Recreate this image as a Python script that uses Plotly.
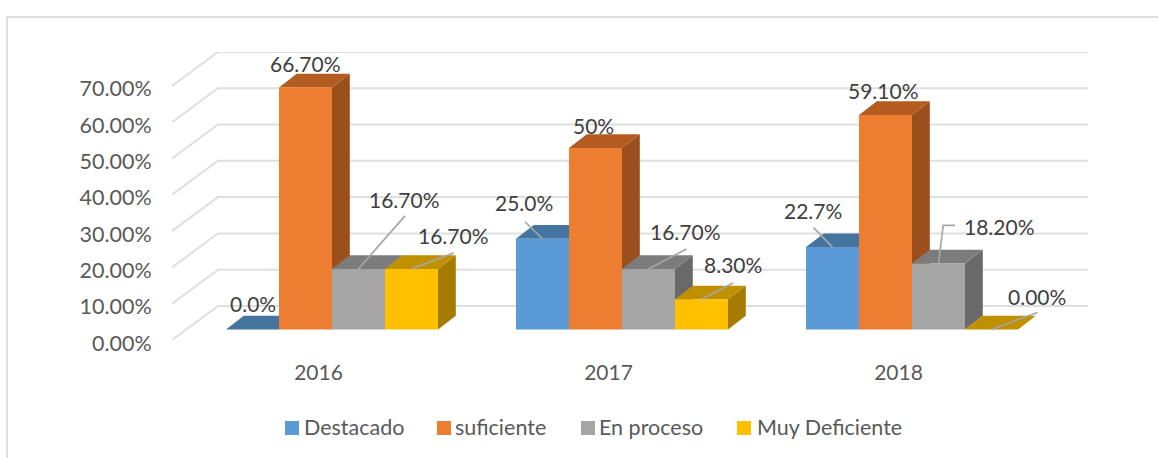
import plotly.graph_objects as go

# ---- data ----
YEARS = ["2016", "2017", "2018"]
SERIES = ["Destacado", "suficiente", "En proceso", "Muy Deficiente"]
DESTACADO = [0.0, 25.0, 22.7]
SUFICIENTE = [66.7, 50.0, 59.1]
EN_PROCESO = [16.7, 16.7, 18.2]
MUY_DEFICIENTE = [16.7, 8.3, 0.0]
LABELS_DESTACADO = ["0.0%", "25.0%", "22.7%"]
LABELS_SUFICIENTE = ["66.70%", "50%", "59.10%"]
LABELS_EN_PROCESO = ["16.70%", "16.70%", "18.20%"]
LABELS_MUY_DEFICIENTE = ["16.70%", "8.30%", "0.00%"]
Y_TICKS = [0, 10, 20, 30, 40, 50, 60, 70]
Y_TICK_TEXT = ["0.00%", "10.00%", "20.00%", "30.00%", "40.00%", "50.00%", "60.00%", "70.00%"]

VALUES = [DESTACADO, SUFICIENTE, EN_PROCESO, MUY_DEFICIENTE]
LABELS = [LABELS_DESTACADO, LABELS_SUFICIENTE, LABELS_EN_PROCESO, LABELS_MUY_DEFICIENTE]

# ---- style ----
FRONT = ["#5b9bd5", "#ed7d31", "#a5a5a5", "#ffc000"]
TOP = ["#45759f", "#b45c20", "#7c7c7c", "#bf9000"]
SIDE = ["#3d6a94", "#9a4f1d", "#696969", "#a67c00"]
GRID = "#dfdfdf"
TEXT = "#404040"
AXTEXT = "#595959"
FONT = "Lato"

W, H = 1158, 458
LEFT, RIGHT, TOPPX, FLOOR = 172, 1088, 52, 340
PX_PER_UNIT_Y = 3.63
PX_PER_CAT = 290.0
CAT0_PX = 318.5
x_lo = (LEFT - CAT0_PX) / PX_PER_CAT
x_hi = (RIGHT - CAT0_PX) / PX_PER_CAT
y_hi = (FLOOR - TOPPX) / PX_PER_UNIT_Y

BASE = 10.5 / PX_PER_UNIT_Y           # bar floor above the front of the wall
BAR_W = 53.0 / PX_PER_CAT
GROUP_SHIFT = 13.5 / PX_PER_CAT
DEPTH_X = 17.8 / PX_PER_CAT
DEPTH_Y = 13.7 / PX_PER_UNIT_Y
WALL_X = 46.0 / PX_PER_CAT
WALL_Y = 34.0 / PX_PER_UNIT_Y
LINE_W = 1.7

# label centre offset and leader path in px, relative to bar top centre (right, up)
LABEL_OFF = [
    [(0.5, 26), (-19, 36), (-20, 37)],
    [(0, 23.5), (-2, 23), (-2, 24)],
    [(45.5, 69), (37.4, 37), (60.6, 36.7)],
    [(42.3, 33), (31, 34.7), (45, 33.5)],
]
LEADERS = [
    [None, [(-17.6, 17)], [(-19, 19.4)]],
    [None, None, None],
    [[(46.5, 53)], [(38, 20)], [(16.5, 38), (4.7, 38)]],
    [[(42.3, 16)], [(31.7, 16.4)], [(46, 17)]],
]

def bar_left(i, k):
    return i + GROUP_SHIFT + (k - 2) * BAR_W

fig = go.Figure()

# back wall and left wall gridlines
gx, gy = [], []
for t in Y_TICKS:
    gx += [x_lo, x_lo + WALL_X, x_hi, None]
    gy += [t, t + WALL_Y, t + WALL_Y, None]
fig.add_trace(go.Scatter(x=gx, y=gy, mode="lines", line=dict(color=GRID, width=2),
                         hoverinfo="skip", showlegend=False))

# depth faces, series by series so each hides the one before
for k, vals in enumerate(VALUES):
    sx, sy, tx, ty = [], [], [], []
    for i, v in enumerate(vals):
        xl = bar_left(i, k)
        xr = xl + BAR_W
        yt = BASE + v
        sx += [xr, xr + DEPTH_X, xr + DEPTH_X, xr, xr, None]
        sy += [BASE, BASE + DEPTH_Y, yt + DEPTH_Y, yt, BASE, None]
        tx += [xl, xl + DEPTH_X, xr + DEPTH_X, xr, xl, None]
        ty += [yt, yt + DEPTH_Y, yt + DEPTH_Y, yt, yt, None]
    fig.add_trace(go.Scatter(x=sx, y=sy, mode="lines", fill="toself", fillcolor=SIDE[k],
                             line=dict(width=0), hoverinfo="skip", showlegend=False))
    fig.add_trace(go.Scatter(x=tx, y=ty, mode="lines", fill="toself", fillcolor=TOP[k],
                             line=dict(width=0), hoverinfo="skip", showlegend=False))

# front faces on an overlaid subplot, so they hide the depth faces of neighbours
for k, vals in enumerate(VALUES):
    fig.add_trace(go.Bar(
        x=[i + GROUP_SHIFT for i in range(len(YEARS))], y=vals, base=BASE,
        width=BAR_W, offset=(k - 2) * BAR_W, name=SERIES[k],
        marker=dict(color=FRONT[k], line=dict(width=0)),
        xaxis="x2", yaxis="y2", showlegend=False))

# leader lines
lx, ly = [], []
annotations = []
for k, vals in enumerate(VALUES):
    for i, v in enumerate(vals):
        cx = bar_left(i, k) + BAR_W / 2
        cy = BASE + v
        path = LEADERS[k][i]
        if path:
            lx.append(cx)
            ly.append(cy)
            for px, py in reversed(path):
                lx.append(cx + px / PX_PER_CAT)
                ly.append(cy + py / PX_PER_UNIT_Y)
            lx.append(None)
            ly.append(None)
        off = LABEL_OFF[k][i]
        annotations.append(dict(
            x=cx, y=cy, xref="x2", yref="y2", xshift=off[0], yshift=off[1],
            text=LABELS[k][i], showarrow=False, xanchor="center", yanchor="middle",
            font=dict(family=FONT, size=21, color=TEXT)))
fig.add_trace(go.Scatter(x=lx, y=ly, mode="lines", line=dict(color="#a6a6a6", width=LINE_W),
                         hoverinfo="skip", showlegend=False, xaxis="x2", yaxis="y2"))

# px to paper conversion for frame and legend
def px_x(p):
    return (p - LEFT) / (RIGHT - LEFT)
def px_y(p):
    return (FLOOR - p) / (FLOOR - TOPPX)

shapes = [
    dict(type="line", xref="paper", yref="paper", x0=px_x(7), x1=px_x(1158), y0=px_y(17), y1=px_y(17),
         line=dict(color="#dedede", width=2)),
    dict(type="line", xref="paper", yref="paper", x0=px_x(7), x1=px_x(7), y0=px_y(17), y1=px_y(458),
         line=dict(color="#dedede", width=2)),
]

# legend row
SWATCH_PX = [285, 437, 581, 737]
LEGTEXT_PX = [301.5, 453, 597, 754.5]
LEG_Y = 428
for k, name in enumerate(SERIES):
    shapes.append(dict(type="rect", xref="paper", yref="paper",
                       x0=px_x(SWATCH_PX[k]), x1=px_x(SWATCH_PX[k] + 14),
                       y0=px_y(LEG_Y + 7), y1=px_y(LEG_Y - 7),
                       fillcolor=FRONT[k], line=dict(width=0)))
    annotations.append(dict(x=px_x(LEGTEXT_PX[k]), y=px_y(LEG_Y - 1), xref="paper", yref="paper",
                            text=name, showarrow=False, xanchor="left", yanchor="middle",
                            font=dict(family=FONT, size=21.5, color=AXTEXT)))

fig.update_layout(
    width=W, height=H, autosize=False,
    margin=dict(l=LEFT, r=W - RIGHT, t=TOPPX, b=H - FLOOR, pad=0),
    paper_bgcolor="white", plot_bgcolor="white",
    barmode="overlay", showlegend=False,
    shapes=shapes, annotations=annotations,
    xaxis=dict(range=[x_lo, x_hi], tickvals=list(range(len(YEARS))), ticktext=YEARS,
               showgrid=False, zeroline=False, showline=False,
               ticks="outside", ticklen=14, tickcolor="rgba(0,0,0,0)",
               tickfont=dict(family=FONT, size=21, color=AXTEXT)),
    yaxis=dict(range=[0, y_hi], tickvals=Y_TICKS, ticktext=Y_TICK_TEXT,
               showgrid=False, zeroline=False, showline=False,
               ticks="outside", ticklen=15, tickcolor="rgba(0,0,0,0)",
               ticklabelshift=3,
               tickfont=dict(family=FONT, size=21.5, color=AXTEXT)),
    xaxis2=dict(range=[x_lo, x_hi], overlaying="x", visible=False),
    yaxis2=dict(range=[0, y_hi], overlaying="y", visible=False),
)

fig.write_html("out.html", config={"displayModeBar": False},
               post_script="document.body.style.margin='0';document.body.style.overflow='hidden';")
